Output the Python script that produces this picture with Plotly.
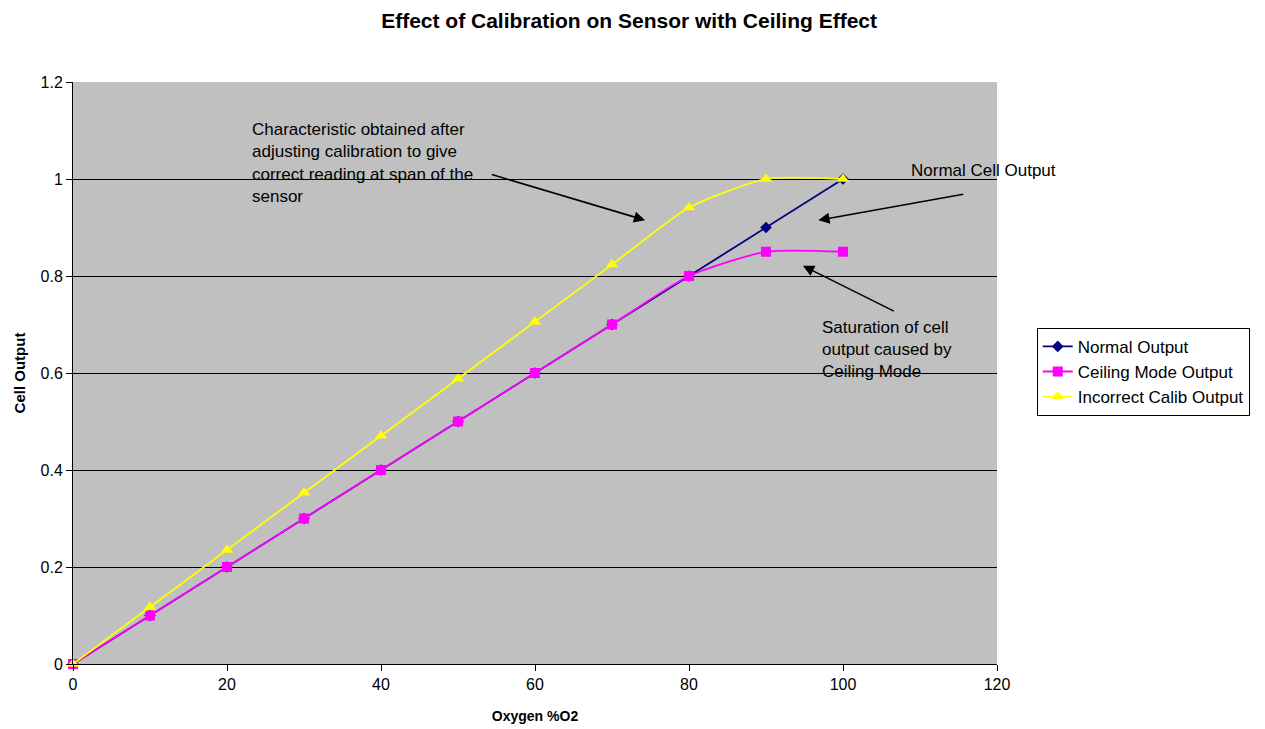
import plotly.graph_objects as go

oxygen = [0, 10, 20, 30, 40, 50, 60, 70, 80, 90, 100]
normal_output = [0, 0.1, 0.2, 0.3, 0.4, 0.5, 0.6, 0.7, 0.8, 0.9, 1.0]
ceiling_output = [0, 0.1, 0.2, 0.3, 0.4, 0.5, 0.6, 0.7, 0.8, 0.85, 0.85]
incorrect_output = [0, 0.1176, 0.2353, 0.3529, 0.4706, 0.5882, 0.7059, 0.8235, 0.9412, 1.0, 1.0]

x_ticks = [0, 20, 40, 60, 80, 100, 120]
y_ticks = [0, 0.2, 0.4, 0.6, 0.8, 1.0, 1.2]
y_tick_text = ["0", "0.2", "0.4", "0.6", "0.8", "1", "1.2"]

fig = go.Figure()
fig.add_trace(go.Scatter(x=oxygen, y=normal_output, name="Normal Output", mode="lines+markers",
                         cliponaxis=False,
                         line=dict(color="#000080", width=1.8),
                         marker=dict(symbol="diamond", size=9, color="#000080")))
fig.add_trace(go.Scatter(x=oxygen, y=ceiling_output, name="Ceiling Mode Output", mode="lines+markers",
                         cliponaxis=False,
                         line=dict(color="#FF00FF", width=1.8, shape="spline", smoothing=0.6),
                         marker=dict(symbol="square", size=10, color="#FF00FF")))
fig.add_trace(go.Scatter(x=oxygen, y=incorrect_output, name="Incorrect Calib Output", mode="lines+markers",
                         cliponaxis=False,
                         line=dict(color="#FFFF00", width=1.8, shape="spline", smoothing=0.6),
                         marker=dict(symbol="triangle-up", size=11, color="#FFFF00")))

font_family = "Liberation Sans, Arial, sans-serif"
ann_size = 17
annotations = []
lines1 = ["Characteristic obtained after", "adjusting calibration to give",
          "correct reading at span of the", "sensor"]
for i, t in enumerate(lines1):
    annotations.append(dict(x=23.0, y=1.103 - i * 0.0465, xref="x", yref="y", text=t, showarrow=False,
                            xanchor="left", yanchor="middle", font=dict(size=ann_size, color="black")))
annotations.append(dict(x=108.6, y=1.018, xref="x", yref="y", text="Normal Cell Output", showarrow=False,
                        xanchor="left", yanchor="middle", font=dict(size=ann_size, color="black")))
lines3 = ["Saturation of cell", "output caused by", "Ceiling Mode"]
for i, t in enumerate(lines3):
    annotations.append(dict(x=97.0, y=0.694 - i * 0.0455, xref="x", yref="y", text=t, showarrow=False,
                            xanchor="left", yanchor="middle", font=dict(size=ann_size, color="black")))
arrows = [((54.2, 1.010), (74.3, 0.915)),
          ((115.8, 0.969), (96.8, 0.915)),
          ((106.8, 0.726), (94.8, 0.821))]
for (tx, ty), (hx, hy) in arrows:
    annotations.append(dict(x=hx, y=hy, ax=tx, ay=ty, xref="x", yref="y", axref="x", ayref="y",
                            text="", showarrow=True, arrowhead=2, arrowsize=1.4, arrowwidth=1.6,
                            arrowcolor="black"))

fig.update_layout(
    width=1265, height=729,
    margin=dict(l=65, r=276, t=74, b=73),
    paper_bgcolor="white", plot_bgcolor="#C0C0C0",
    font=dict(family=font_family, size=16, color="black"),
    title=dict(text="<b>Effect of Calibration on Sensor with Ceiling Effect</b>", x=0.491, xref="container",
               y=1 - 13 / 729, yref="container", xanchor="center", yanchor="middle",
               font=dict(size=21, color="black")),
    xaxis=dict(range=[0, 120], tickvals=x_ticks, showgrid=False, zeroline=False,
               showline=True, linecolor="black", linewidth=1, ticks="outside", ticklen=6,
               tickcolor="black", mirror=False, tickfont=dict(size=16),
               title=dict(text="<b>Oxygen %O2</b>", font=dict(size=14), standoff=18)),
    yaxis=dict(range=[0, 1.2], tickvals=y_ticks, ticktext=y_tick_text, showgrid=True,
               gridcolor="black", gridwidth=1, zeroline=False, showline=True, linecolor="black",
               linewidth=1, ticks="outside", ticklen=6, tickcolor="black", tickfont=dict(size=16),
               title=dict(text="<b>Cell Output</b>", font=dict(size=15), standoff=11)),
    legend=dict(x=1.043, y=0.502, xanchor="left", yanchor="middle", bordercolor="black", borderwidth=1,
                bgcolor="white", font=dict(size=17), tracegroupgap=0, itemwidth=30),
    annotations=annotations,
    showlegend=True,
)

fig.write_html("out.html")
